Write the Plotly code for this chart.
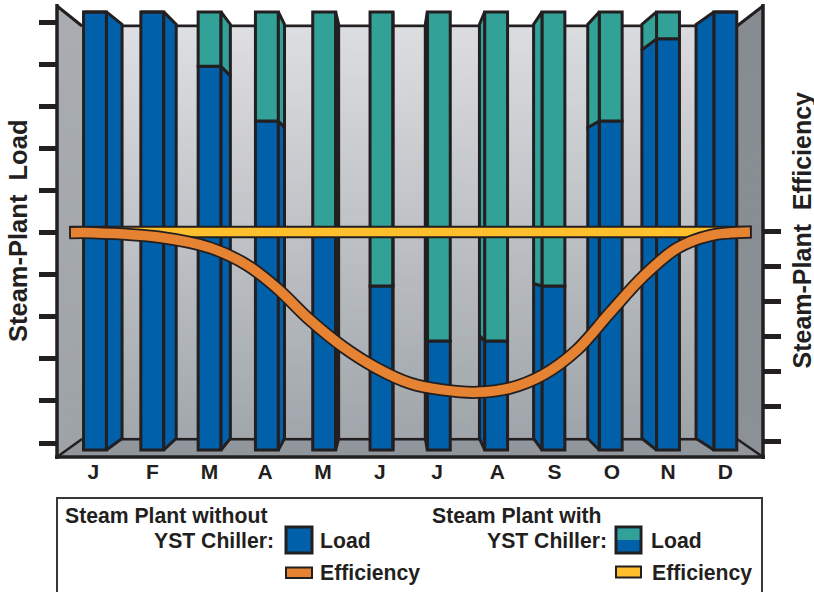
import plotly.graph_objects as go

# ---------- data ----------
months = ["J", "F", "M", "A", "M", "J", "J", "A", "S", "O", "N", "D"]
month_pos = list(range(12))
month_label_pos = [-0.03, 1.0, 2.0, 2.97, 3.98, 4.97, 5.97, 7.02, 8.02, 9.02, 10.0, 11.0]
load_without_chiller = [102.4] * 12
load_with_chiller = [102.4, 102.4, 89.5, 76.5, 50.0, 37.3, 24.2, 24.2, 37.3, 76.5, 96.0, 102.4]
load_base = -1.66
efficiency_x = [-0.42, -0.03, 1.13, 2.01, 2.65, 3.18, 3.75, 4.33, 4.92, 5.50, 6.07, 6.66, 7.24, 7.82, 8.41, 8.99,
                9.56, 10.16, 10.73, 11.43]
efficiency_without = [5.95, 5.95, 5.82, 5.52, 5.03, 4.36, 3.46, 2.69, 2.08, 1.65, 1.46, 1.39, 1.51, 1.89, 2.60, 3.67,
                      4.69, 5.51, 5.87, 5.97]
efficiency_with = [5.97] * len(efficiency_x)
load_ticks = list(range(0, 101, 10))
eff_ticks = list(range(0, 7))

# ---------- palette ----------
INK = "#231f20"
BLUE = "#0060aa"
TEAL = "#32a198"
ORANGE = "#e58332"
YELLOW = "#fdc02c"
FONT = "Liberation Sans"

W, H = 814, 592
L, R, T, B = 57, 763, 6, 457            # plot frame in pixels
BL, BR, BT, BB = 82, 737, 26, 439       # back wall in pixels


def px(x):
    return (x - L) / (R - L)


def py(y):
    return (B - y) / (B - T)


# data <-> pixel relations of the axes
x_lo, x_hi = (L - 95) / 57.3, (R - 95) / 57.3
y_lo, y_hi = (443 - B) / 4.21, (443 - T) / 4.21
y2_lo, y2_hi = (441 - B) / 35.0, (441 - T) / 35.0


def data_x(p):
    return (p - 95) / 57.3


def data_y(p):
    return (443 - p) / 4.21


# perspective of the bars' side faces
XV, YV, K = 5.15, 48.2, 0.055
BAR_W = 0.40


def back(x, y):
    return x + (XV - x) * K, y + (YV - y) * K


def mix(c1, c2, t):
    a = [int(c1[i:i + 2], 16) for i in (1, 3, 5)]
    b = [int(c2[i:i + 2], 16) for i in (1, 3, 5)]
    return "rgb(%d,%d,%d)" % tuple(round(u + (v - u) * t) for u, v in zip(a, b))


shapes = []
annotations = []


def poly(points, fill, line=None, width=0):
    path = "M" + " L".join(f"{px(a):.5f},{py(b):.5f}" for a, b in points) + " Z"
    shapes.append(dict(type="path", path=path, xref="paper", yref="paper", layer="below",
                       fillcolor=fill, line=dict(color=line or fill, width=width)))


def seg(a, b, width=3):
    shapes.append(dict(type="line", xref="paper", yref="paper", layer="below",
                       x0=px(a[0]), y0=py(a[1]), x1=px(b[0]), y1=py(b[1]),
                       line=dict(color=INK, width=width)))


# walls and floor, in thin bands so that they shade
N = 30
for i in range(N):
    t0, t1 = i / N, (i + 1) / N
    lerp = lambda a, b, t: a + (b - a) * t
    c = mix("#a9adb1", "#9ea3a8", t0)
    poly([(L, lerp(T, B, t0)), (BL, lerp(BT, BB, t0)), (BL, lerp(BT, BB, t1) + .5), (L, lerp(T, B, t1) + .5)], c, c, 0.5)
    c = mix("#868c92", "#8b9196", t0)
    poly([(R, lerp(T, B, t0)), (BR, lerp(BT, BB, t0)), (BR, lerp(BT, BB, t1) + .5), (R, lerp(T, B, t1) + .5)], c, c, 0.5)
poly([(L, B), (BL, BB), (BR, BB), (R, B)], "#90969c")

seg((L, T), (BL, BT))
seg((R, T), (BR, BT))
seg((L, B), (BL, BB), 2.5)
seg((R, B), (BR, BB), 2.5)
seg((BL, BT), (BR, BT))
seg((BL, BB), (BR, BB))
seg((L, T - 2), (L, B + 2), 3.5)
seg((R, T - 2), (R, B + 2), 3.5)
seg((L - 2, B), (R + 2, B), 3.5)

# legend frame, runs off the bottom of the picture
shapes.append(dict(type="path", xref="paper", yref="paper", layer="above",
                   path=f"M{px(57):.5f},{py(600):.5f} L{px(57):.5f},{py(498):.5f} L{px(762):.5f},{py(498):.5f} L{px(762):.5f},{py(600):.5f}",
                   line=dict(color="#3b3738", width=2)))


def swatch(x0, y0, x1, y1, fill, width=3):
    shapes.append(dict(type="rect", xref="paper", yref="paper", layer="above",
                       x0=px(x0), x1=px(x1), y0=py(y1), y1=py(y0), fillcolor=fill,
                       line=dict(color=INK, width=width)))


swatch(286, 527, 312, 553, BLUE)
swatch(286, 567.5, 312, 578, ORANGE, 2)
swatch(616, 527, 641, 553, BLUE)
swatch(617.5, 528.5, 639.5, 540, TEAL, 0)
swatch(616, 566.5, 641, 577.5, YELLOW, 2)


def text(x, y, s, size=21.2, anchor="left", angle=0):
    annotations.append(dict(x=px(x), y=py(y), xref="paper", yref="paper", text=s, showarrow=False,
                            xanchor=anchor, yanchor="middle", textangle=angle,
                            font=dict(family=FONT, size=size, color=INK, weight="bold")))


text(63, 515.5, "Steam Plant without")
text(276, 540.5, "YST Chiller:", anchor="right")
text(318, 540.5, "Load")
text(318, 572.5, "Efficiency")
text(430, 515.5, "Steam Plant with")
text(609, 540.5, "YST Chiller:", anchor="right")
text(648.5, 540.5, "Load")
text(650, 572.5, "Efficiency")
text(18, 231, "Steam-Plant\u00a0\u00a0Load", 25.5, "center", -90)
text(801.5, 230, "Steam-Plant\u00a0\u00a0Efficiency", 25, "center", -90)

fig = go.Figure()

# back wall: soft diagonal shade
n = 40
hx = [data_x(BL + 1.5 + (BR - BL - 3) * i / n) for i in range(n + 1)]
hy = [data_y(BB - 1.5 - (BB - BT - 3) * j / n) for j in range(n + 1)]
hz = [[(1 - (j + .5) / n) * 0.92 + ((i + .5) / n) * 0.08 for i in range(n)] for j in range(n)]
fig.add_trace(go.Heatmap(x=hx, y=hy, z=hz, showscale=False, hoverinfo="skip", zsmooth="fast",
                         zmin=0, zmax=1, colorscale=[[0, "#dfe0e3"], [1, "#9da3a8"]]))

# bar fronts
blue_heights = [v - load_base for v in load_with_chiller]
teal_heights = [a - b for a, b in zip(load_without_chiller, load_with_chiller)]
outline = dict(color=INK, width=3)
fig.add_trace(go.Bar(x=month_pos, y=blue_heights, base=load_base, width=BAR_W, name="Load",
                     marker=dict(color=BLUE, line=outline), showlegend=False))
fig.add_trace(go.Bar(x=month_pos, y=teal_heights, base=load_with_chiller, width=BAR_W, name="Load saved",
                     marker=dict(color=TEAL, line=outline), showlegend=False))


# bar side faces, projected from the same values
def side(i, lo, hi, colour):
    x = i + BAR_W / 2 if i <= 5 else i - BAR_W / 2
    bx, by_lo = back(x, lo)
    _, by_hi = back(x, hi)
    fig.add_trace(go.Scatter(x=[x, x, bx, bx, x], y=[lo, hi, by_hi, by_lo, lo], mode="lines", fill="toself",
                             fillcolor=colour, line=dict(color=INK, width=3), hoverinfo="skip", showlegend=False))


for i in month_pos:
    side(i, load_base, load_with_chiller[i], BLUE)
    if teal_heights[i] > 0:
        side(i, load_with_chiller[i], load_without_chiller[i], TEAL)

# efficiency ribbons on the right-hand scale
pad = 0.03
ox = [efficiency_x[0] - pad] + efficiency_x[1:-1] + [efficiency_x[-1] + pad]
fig.add_trace(go.Scatter(x=ox, y=efficiency_with, yaxis="y2", mode="lines", hoverinfo="skip", showlegend=False,
                         line=dict(color=INK, width=12.5)))
fig.add_trace(go.Scatter(x=efficiency_x, y=efficiency_with, yaxis="y2", mode="lines", name="Efficiency with",
                         showlegend=False, line=dict(color=YELLOW, width=8.5)))
fig.add_trace(go.Scatter(x=ox, y=efficiency_without, yaxis="y2", mode="lines", hoverinfo="skip", showlegend=False,
                         line=dict(color=INK, width=13, shape="spline", smoothing=1.0)))
fig.add_trace(go.Scatter(x=efficiency_x, y=efficiency_without, yaxis="y2", mode="lines", name="Efficiency without",
                         showlegend=False, line=dict(color=ORANGE, width=9.5, shape="spline", smoothing=1.0)))

fig.update_layout(
    width=W, height=H, margin=dict(l=L, r=W - R, t=T, b=H - B, pad=0),
    paper_bgcolor="white", plot_bgcolor="white", showlegend=False, barmode="overlay",
    shapes=shapes, annotations=annotations,
    xaxis=dict(range=[x_lo, x_hi], tickmode="array", tickvals=month_label_pos, ticktext=months, ticks="",
               showgrid=False, zeroline=False, showline=False,
               tickfont=dict(family=FONT, size=21, color=INK, weight="bold")),
    yaxis=dict(range=[y_lo, y_hi], tickmode="array", tickvals=load_ticks, ticktext=[""] * len(load_ticks),
               ticks="outside", ticklen=17, tickwidth=5, tickcolor=INK,
               showgrid=False, zeroline=False, showline=False),
    yaxis2=dict(range=[y2_lo, y2_hi], overlaying="y", side="right", anchor="x", tickmode="array",
                tickvals=eff_ticks, ticktext=[""] * len(eff_ticks), ticks="outside", ticklen=17, tickwidth=5,
                tickcolor=INK, showgrid=False, zeroline=False, showline=False),
)

fig.write_html("out.html", config={"displayModeBar": False},
               post_script="document.body.style.margin='0';document.body.style.overflow='hidden';")
